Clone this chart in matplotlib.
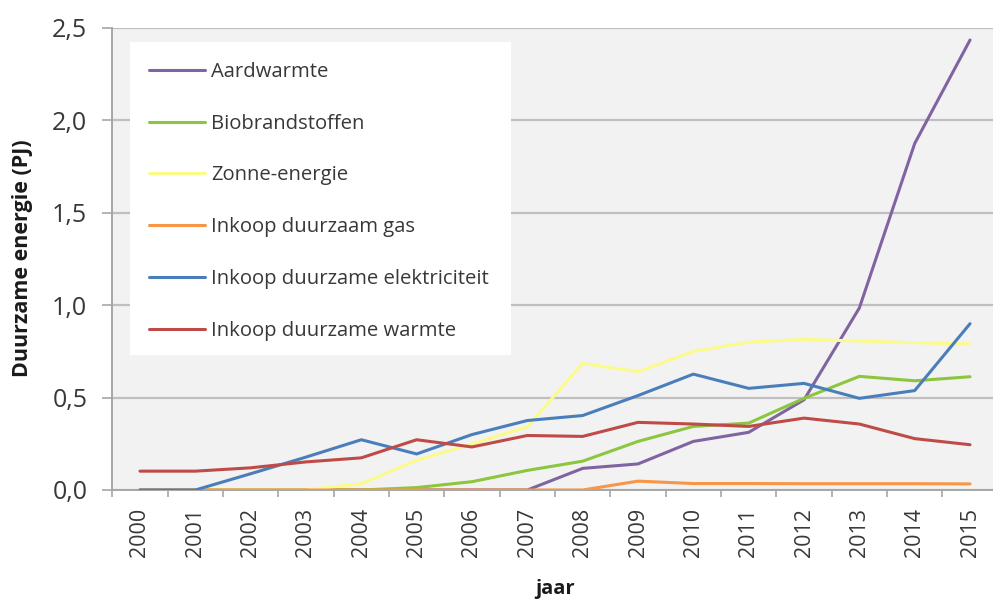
import matplotlib
matplotlib.use("Agg")
from matplotlib import pyplot as plt
from matplotlib.patches import Rectangle
from matplotlib.ticker import FuncFormatter

plt.rcParams['font.family'] = ['Open Sans', 'DejaVu Sans']

years = list(range(2000, 2016))

# values (PJ)
aardwarmte = [0, 0, 0, 0, 0, 0, 0, 0, 0.117, 0.141, 0.263, 0.312, 0.488, 0.985, 1.875, 2.435]
biobrandstoffen = [0, 0, 0, 0, 0, 0.013, 0.045, 0.106, 0.156, 0.263, 0.344, 0.362, 0.496, 0.615, 0.591, 0.613]
zonne_energie = [0, 0, 0, 0, 0.034, 0.16, 0.25, 0.342, 0.685, 0.64, 0.75, 0.80, 0.815, 0.806, 0.797, 0.79]
inkoop_gas = [0, 0, 0, 0, 0, 0, 0, 0, 0, 0.048, 0.035, 0.035, 0.034, 0.034, 0.034, 0.033]
inkoop_elek = [0, 0, 0.088, 0.178, 0.272, 0.195, 0.30, 0.376, 0.403, 0.511, 0.627, 0.55, 0.577, 0.496, 0.538, 0.90]
inkoop_warmte = [0.102, 0.102, 0.12, 0.152, 0.174, 0.272, 0.233, 0.295, 0.29, 0.366, 0.357, 0.344, 0.389, 0.357, 0.278, 0.245]

series = [
    ("Aardwarmte", aardwarmte, "#8064a2"),
    ("Biobrandstoffen", biobrandstoffen, "#8cc63f"),
    ("Zonne-energie", zonne_energie, "#fbfb8c"),
    ("Inkoop duurzaam gas", inkoop_gas, "#f79646"),
    ("Inkoop duurzame elektriciteit", inkoop_elek, "#4a7ebb"),
    ("Inkoop duurzame warmte", inkoop_warmte, "#be4b48"),
]

fig = plt.figure(figsize=(9.93, 6.06), dpi=100)
ax = fig.add_axes([112.3 / 993, 116 / 606, 885.4 / 993, 462 / 606])
ax.set_facecolor("#f2f2f2")

x = list(range(len(years)))
for name, vals, col in series:
    ax.plot(x, vals, color=col, lw=2.2, label=name, zorder=3, solid_capstyle='round')

ax.set_xlim(-0.5, 15.5)
ax.set_ylim(0, 2.5)
ax.set_yticks([0, 0.5, 1.0, 1.5, 2.0, 2.5])
ax.yaxis.set_major_formatter(FuncFormatter(lambda v, p: ("%.1f" % v).replace(".", ",")))
ax.set_xticks(x)
ax.set_xticklabels([str(y) for y in years], rotation=90)
ax.set_xticks([i - 0.5 for i in range(len(years) + 1)], minor=True)

ax.grid(axis='y', color="#bfbfbf", lw=1.6, zorder=0)
ax.set_axisbelow(True)
for s in ['top', 'right']:
    ax.spines[s].set_visible(False)
for s in ['left', 'bottom']:
    ax.spines[s].set_color("#a6a6a6")
    ax.spines[s].set_linewidth(1.4)

ax.tick_params(axis='y', length=7, width=1.2, color="#a6a6a6", labelsize=18, labelcolor="#383838", pad=11)
ax.tick_params(axis='x', which='major', length=0, labelsize=15.5, labelcolor="#383838", pad=13)
ax.tick_params(axis='x', which='minor', length=5, width=1.2, color="#a6a6a6")

ax.set_ylabel("Duurzame energie (PJ)", fontsize=15.5, fontweight='bold', color="#1a1a1a")
ax.yaxis.set_label_coords(-0.0896, 0.502)
ax.set_xlabel("jaar", fontsize=14.5, fontweight='bold', color="#1a1a1a")
ax.xaxis.set_label_coords(0.5, -0.193)

# white legend panel
ax.add_patch(Rectangle((0.02, 0.292), 0.43, 0.678, transform=ax.transAxes,
                       facecolor="white", edgecolor="none", zorder=1))
leg = ax.legend(loc='upper left', bbox_to_anchor=(0.0415, 0.9265), frameon=False,
                fontsize=14.6, borderpad=0, handlelength=2.76, handletextpad=0.3,
                labelspacing=1.565, borderaxespad=0)
for t in leg.get_texts():
    t.set_color("#383838")
for h in leg.get_lines():
    h.set_linewidth(2.2)

fig.savefig("out.png", dpi=100)
